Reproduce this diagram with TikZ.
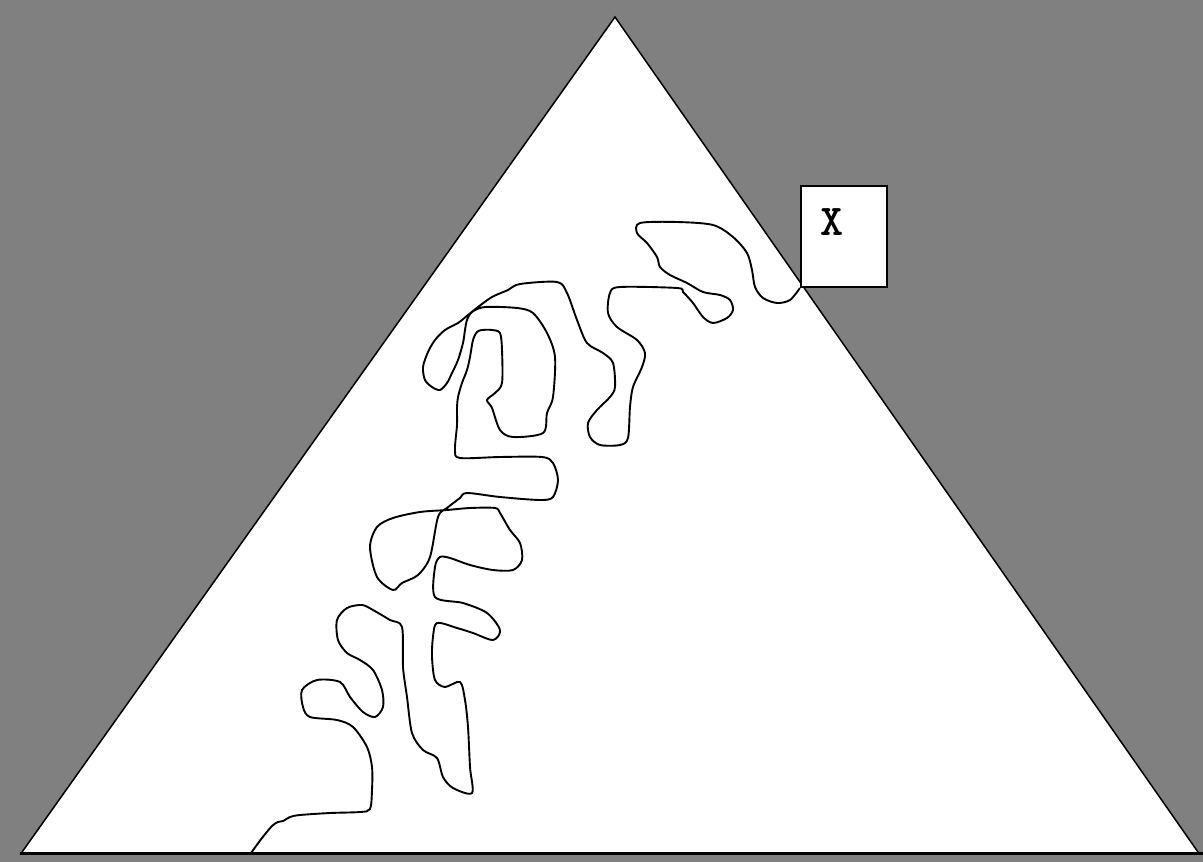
\documentclass[tikz,border=0pt]{standalone}
\definecolor{bggray}{RGB}{128,128,128}
\begin{document}
\begin{tikzpicture}[x=1pt,y=-1pt,
  edge/.style={draw=black, line width=1.5pt, line join=miter},
  base/.style={draw=black, line width=3pt},
  wiggle/.style={draw=black, line width=1.9pt, line join=round, line cap=round},
  boxstyle/.style={draw=black, line width=2.7pt, fill=white, inner sep=0pt, minimum width=86pt, minimum height=101pt},
  lblstyle/.style={inner sep=0pt, font=\ttfamily\bfseries\fontsize{44}{44}\selectfont}]
\fill[bggray] (0,0) rectangle (1203,862);
\useasboundingbox (0,0) rectangle (1203,862);
\coordinate (apex) at (615,17);
\coordinate (bl) at (21,853.5);
\coordinate (br) at (1199,853.5);
\coordinate (baseL) at (20,853.5);
\coordinate (baseR) at (1203,853.5);
\filldraw[fill=white, edge] (apex) -- (bl) -- (br) -- cycle;
\draw[base] (baseL) -- (baseR);
\node[boxstyle] (box) at (844,236.5) {};
\node[lblstyle] (lbl) at (832.5,222.5) {X};
\coordinate (start) at (251,853);
\draw[wiggle] plot[smooth, tension=0.5] coordinates {
 (start) (262,838) (272,826) (278,822) (283,821) (290,817) (300,815) (330,813) (360,812) (370,809)
 (372,790) (372,767) (367,747) (353,727) (337,720) (310,717) (303,707) (302,690) (317,680) (340,682)
 (350,697) (363,712) (375,717) (383,707) (382,690) (373,670) (360,660) (347,653) (338,640) (337,620)
 (347,608) (362,605) (373,610) (390,620) (402,627) (403,667) (407,697) (412,733) (423,750) (437,758)
 (443,777) (453,788) (472,793) (470,767) (468,727) (465,700) (460,682) (445,687) (435,680) (432,657)
 (433,637) (437,623) (457,628) (473,633) (493,640) (500,630) (487,613) (463,603) (435,597) (435,567)
 (440,557) (450,558) (470,565) (493,570) (513,570) (522,560) (520,543) (510,530) (500,513) (495,508)
 (470,508) (447,510) (420,512) (393,518) (377,527) (370,547) (377,577) (393,590) (402,583) (418,575)
 (430,557) (438,517) (447,508) (460,498) (467,493) (500,497) (540,500) (553,497) (558,480) (553,463)
 (542,457) (500,457) (460,458) (455,450) (457,425) (457,408) (458,397) (462,383) (467,370) (470,357)
 (473,340) (477,332) (482,330) (492,330) (500,333) (502,350) (502,383) (495,393) (487,400) (492,408)
 (500,430) (513,437) (543,433) (547,413) (553,397) (555,357) (547,333) (533,313) (517,308) (485,307)
 (472,312) (467,320) (465,330) (463,343) (458,360) (452,373) (447,383) (440,390) (432,387) (425,380)
 (423,367) (428,352) (435,340) (445,330) (458,323) (468,315) (478,307) (492,297) (508,290) (520,284)
 (557,282) (567,293) (577,320) (587,343) (603,353) (613,363) (615,387) (610,397) (597,410) (588,423)
 (590,437) (600,445) (620,445) (628,438) (630,407) (633,387) (642,367) (645,353) (637,340) (617,327)
 (608,313) (610,293) (620,287) (677,288) (683,292) (693,303) (703,317) (713,323) (727,318) (733,310)
 (730,300) (720,295) (703,292) (687,283) (670,275) (660,267) (657,257) (647,243) (637,233) (640,223)
 (677,222) (713,225) (733,237) (747,253) (752,270) (755,287) (763,298) (777,303) (790,300) (box.south west)
};
\end{tikzpicture}
\end{document}
